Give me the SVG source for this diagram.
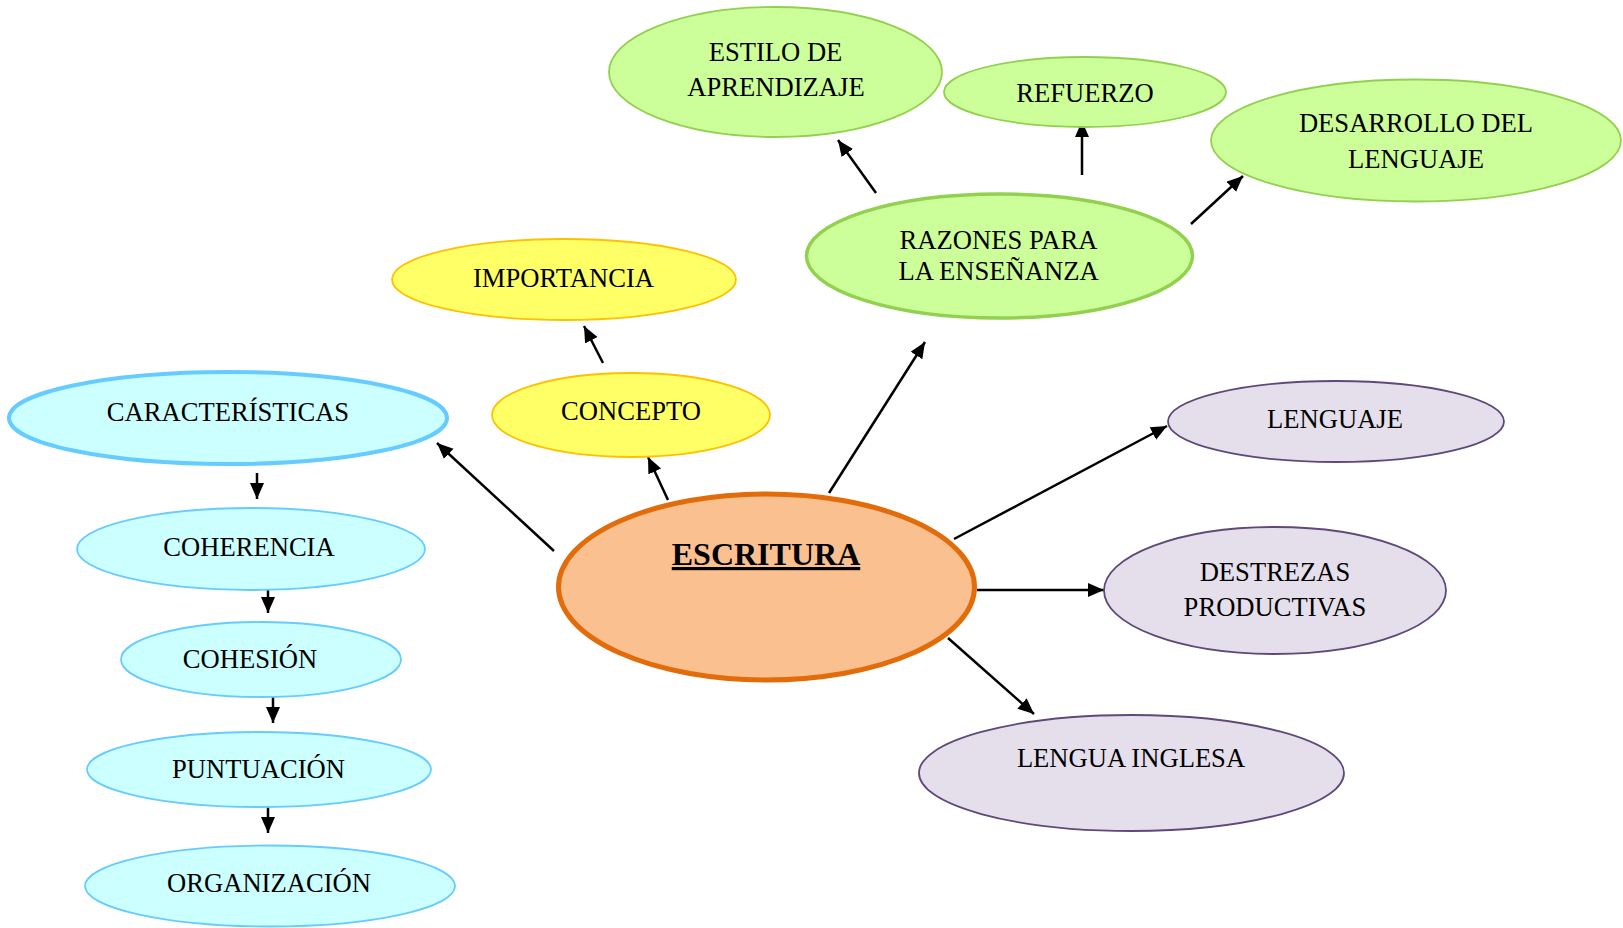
<svg xmlns="http://www.w3.org/2000/svg" width="1623" height="928" viewBox="0 0 1623 928">
<defs>
<marker id="ah" markerUnits="userSpaceOnUse" markerWidth="18" markerHeight="15" refX="16" refY="7" orient="auto">
<path d="M0,0 L16,7 L0,14 z" fill="#000"/>
</marker>
<style>
text{font-family:"Liberation Serif","Times New Roman",serif;font-size:26.6px;fill:#000;text-anchor:middle}
.cy{fill:#CCFFFF;stroke:#66CCFF;stroke-width:1.8}
.ye{fill:#FFFF66;stroke:#FFC000;stroke-width:1.8}
.gr{fill:#CCFF99;stroke:#92D050;stroke-width:1.8}
.lv{fill:#E5DFEC;stroke:#5F497A;stroke-width:1.8}
.cn line{stroke:#000;stroke-width:2.5;marker-end:url(#ah)}
</style>
</defs>
<rect width="1623" height="928" fill="#fff"/>
<g class="cn" id="connectors">
<line x1="554" y1="551" x2="437" y2="443"/>
<line x1="668" y1="500" x2="648" y2="457"/>
<line x1="603" y1="363" x2="584" y2="326"/>
<line x1="829" y1="493" x2="925" y2="342"/>
<line x1="876" y1="193" x2="838" y2="140"/>
<line x1="1082" y1="175" x2="1082" y2="121"/>
<line x1="1191" y1="224" x2="1243" y2="176"/>
<line x1="954" y1="539" x2="1167" y2="426"/>
<line x1="977" y1="590" x2="1104" y2="590"/>
<line x1="948" y1="638" x2="1034" y2="714"/>
<line x1="257" y1="473" x2="257" y2="499"/>
<line x1="268" y1="586" x2="268" y2="613"/>
<line x1="273" y1="697" x2="273" y2="723"/>
<line x1="268" y1="807" x2="268" y2="833"/>
</g>
<g id="escritura">
<ellipse cx="766.5" cy="587" rx="208" ry="93" fill="#FAC090" stroke="#E36C0A" stroke-width="5"/>
<text x="766" y="565" style="font-size:32px;font-weight:bold;text-decoration:underline">ESCRITURA</text>
</g>
<g id="caracteristicas">
<ellipse cx="228" cy="418" rx="219" ry="46" class="cy" style="stroke-width:4"/>
<text x="228" y="421">CARACTERÍSTICAS</text>
</g>
<g id="coherencia">
<ellipse cx="251" cy="549" rx="174" ry="41" class="cy"/>
<text x="249" y="556">COHERENCIA</text>
</g>
<g id="cohesion">
<ellipse cx="261" cy="659.5" rx="140" ry="37.5" class="cy"/>
<text x="250" y="668">COHESIÓN</text>
</g>
<g id="puntuacion">
<ellipse cx="259" cy="769.5" rx="172" ry="37.5" class="cy"/>
<text x="258.5" y="778">PUNTUACIÓN</text>
</g>
<g id="organizacion">
<ellipse cx="270" cy="886" rx="185" ry="40.5" class="cy"/>
<text x="269" y="892">ORGANIZACIÓN</text>
</g>
<g id="importancia">
<ellipse cx="564" cy="279.5" rx="172" ry="40.5" class="ye"/>
<text x="563.5" y="287">IMPORTANCIA</text>
</g>
<g id="concepto">
<ellipse cx="631" cy="415" rx="139" ry="42" class="ye"/>
<text x="631" y="420">CONCEPTO</text>
</g>
<g id="razones">
<ellipse cx="999.5" cy="256" rx="193" ry="62" class="gr" style="stroke-width:3.5"/>
<text x="998.5" y="249">RAZONES PARA</text>
<text x="998.5" y="280">LA ENSEÑANZA</text>
</g>
<g id="estilo">
<ellipse cx="775.5" cy="72" rx="166.5" ry="65" class="gr"/>
<text x="775.5" y="61">ESTILO DE</text>
<text x="776" y="96">APRENDIZAJE</text>
</g>
<g id="refuerzo">
<ellipse cx="1085" cy="92" rx="141" ry="35" class="gr"/>
<text x="1085" y="102">REFUERZO</text>
</g>
<g id="desarrollo">
<ellipse cx="1416" cy="140.5" rx="205" ry="61" class="gr"/>
<text x="1416" y="132">DESARROLLO DEL</text>
<text x="1416" y="168">LENGUAJE</text>
</g>
<g id="lenguaje">
<ellipse cx="1336" cy="421.5" rx="168" ry="40.5" class="lv"/>
<text x="1335" y="428">LENGUAJE</text>
</g>
<g id="destrezas">
<ellipse cx="1275" cy="590.5" rx="171" ry="63.5" class="lv"/>
<text x="1275" y="581">DESTREZAS</text>
<text x="1275" y="616">PRODUCTIVAS</text>
</g>
<g id="lengua-inglesa">
<ellipse cx="1131.5" cy="773" rx="212.5" ry="58" class="lv"/>
<text x="1131" y="767">LENGUA INGLESA</text>
</g>
</svg>
